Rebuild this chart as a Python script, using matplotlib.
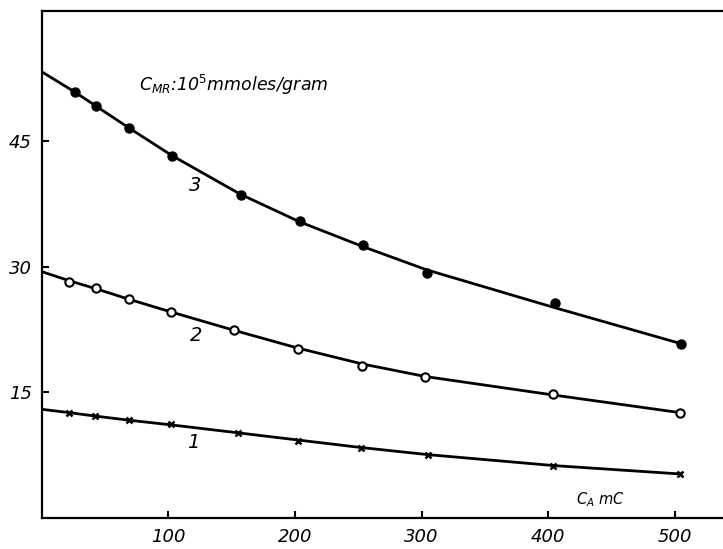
import matplotlib
matplotlib.use("Agg")
import matplotlib.pyplot as plt

# ---- data ----
x1 = [22, 42, 69, 102, 155, 202, 252, 305, 404, 504]
y1 = [12.6, 12.2, 11.7, 11.2, 10.2, 9.2, 8.4, 7.6, 6.3, 5.3]
line1_x = [0, 22, 42, 69, 102, 155, 202, 252, 305, 404, 504]
line1_y = [13.0, 12.6, 12.2, 11.7, 11.15, 10.2, 9.35, 8.45, 7.6, 6.3, 5.3]

x2 = [22, 43, 69, 102, 152, 202, 253, 303, 404, 504]
y2 = [28.2, 27.4, 26.1, 24.6, 22.4, 20.2, 18.1, 16.9, 14.8, 12.6]
line2_x = [0, 22, 43, 69, 102, 152, 202, 253, 303, 404, 504]
line2_y = [29.4, 28.3, 27.35, 26.1, 24.6, 22.4, 20.3, 18.4, 16.9, 14.7, 12.6]

x3 = [26, 43, 69, 103, 157, 204, 254, 304, 405, 505]
y3 = [50.8, 49.1, 46.5, 43.2, 38.5, 35.4, 32.6, 29.2, 25.6, 20.8]
line3_x = [0, 26, 43, 69, 103, 157, 204, 254, 304, 405, 505]
line3_y = [53.2, 50.8, 49.1, 46.5, 43.2, 38.6, 35.3, 32.35, 29.6, 25.1, 20.8]

xticks = [100, 200, 300, 400, 500]
yticks = [15, 30, 45]
curve_labels = ["1", "2", "3"]

plt.rcParams['mathtext.fontset'] = 'dejavusans'
plt.rcParams['mathtext.default'] = 'it'

fig = plt.figure(figsize=(7.23, 5.49), dpi=100)
ax = fig.add_axes([0.0575, 0.0556, 0.9425, 0.924])
ax.set_xlim(0, 537.8)
ax.set_ylim(0, 60.4)

lw = 2.0
ax.plot(line1_x, line1_y, color='black', lw=lw, zorder=2, solid_joinstyle='round')
ax.plot(x1, y1, linestyle='none', marker='x', ms=5, mew=1.8, color='black', zorder=3)

ax.plot(line2_x, line2_y, color='black', lw=lw, zorder=2, solid_joinstyle='round')
ax.plot(x2, y2, linestyle='none', marker='o', ms=6, mew=1.5, mfc='white', mec='black', zorder=3)

ax.plot(line3_x, line3_y, color='black', lw=lw, zorder=2, solid_joinstyle='round')
ax.plot(x3, y3, linestyle='none', marker='o', ms=6.5, color='black', zorder=3)

ax.spines['right'].set_visible(False)
for s in ['left', 'bottom', 'top']:
    ax.spines[s].set_linewidth(1.6)

ax.set_xticks(xticks)
ax.set_xticklabels([str(v) for v in xticks], fontsize=13, style='italic')
ax.set_yticks(yticks)
ax.set_yticklabels([str(v) for v in yticks], fontsize=13, style='italic')
ax.tick_params(direction='in', length=5, width=1.5, pad=7)

ax.text(121, 39.7, curve_labels[2], fontsize=14, style='italic', ha='center', va='center')
ax.text(121.7, 21.8, curve_labels[1], fontsize=14, style='italic', ha='center', va='center')
ax.text(119.5, 9.0, curve_labels[0], fontsize=14, style='italic', ha='center', va='center')

ax.text(77, 51.6, r"$C_{MR}$:10$^{5}$mmoles/gram", fontsize=12.5, style='italic',
        ha='left', va='center')
ax.text(441, 2.2, r"$C_{A}$ mC", fontsize=10.5, style='italic', ha='center', va='center')

fig.savefig("out.png", dpi=100)
